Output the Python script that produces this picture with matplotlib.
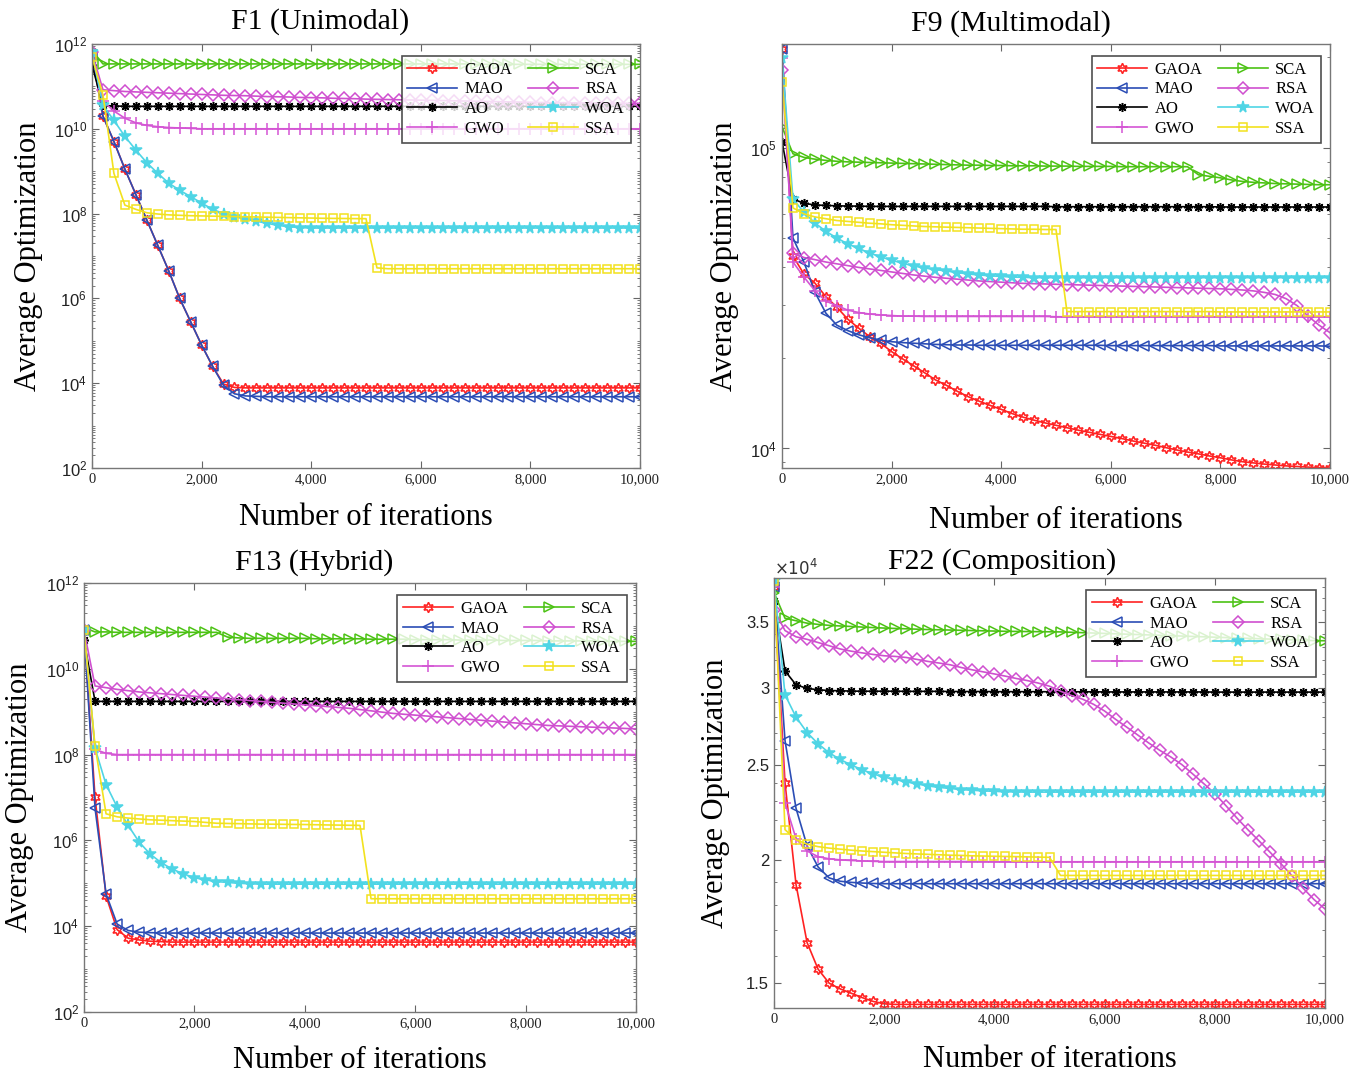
import numpy as np
import matplotlib
matplotlib.use("Agg")
import matplotlib.pyplot as plt
from matplotlib.ticker import FuncFormatter, LogLocator, FixedLocator, NullFormatter, LogFormatterSciNotation

# iteration grid (one point every 200 iterations)
iters = np.arange(0, 10001, 200)

names = ["GAOA", "MAO", "AO", "GWO", "SCA", "RSA", "WOA", "SSA"]

# ---------------- F1 (Unimodal), log10 of value ----------------
f1_gaoa = [11.75, 10.30, 9.70, 9.05, 8.45, 7.85, 7.25, 6.65, 6.00, 5.45,
           4.90, 4.40, 3.98, 3.90, 3.89, 3.89, 3.89, 3.89, 3.89, 3.89,
           3.89, 3.89, 3.89, 3.89, 3.89, 3.89, 3.89, 3.89, 3.89, 3.89,
           3.89, 3.89, 3.89, 3.89, 3.89, 3.89, 3.89, 3.89, 3.89, 3.89,
           3.89, 3.89, 3.89, 3.89, 3.89, 3.89, 3.89, 3.89, 3.89, 3.89,
           3.89]
f1_mao = [11.75, 10.30, 9.70, 9.05, 8.45, 7.85, 7.25, 6.65, 6.00, 5.45,
          4.90, 4.40, 3.95, 3.75, 3.70, 3.69, 3.68, 3.68, 3.68, 3.68,
          3.68, 3.68, 3.68, 3.68, 3.68, 3.68, 3.68, 3.68, 3.68, 3.68,
          3.68, 3.68, 3.68, 3.68, 3.68, 3.68, 3.68, 3.68, 3.68, 3.68,
          3.68, 3.68, 3.68, 3.68, 3.68, 3.68, 3.68, 3.68, 3.68, 3.68,
          3.68]
f1_ao = [11.50, 10.55, 10.54, 10.53, 10.53, 10.53, 10.53, 10.53, 10.53, 10.53,
         10.53, 10.53, 10.53, 10.53, 10.53, 10.53, 10.53, 10.53, 10.53, 10.53,
         10.53, 10.53, 10.53, 10.53, 10.53, 10.53, 10.53, 10.53, 10.53, 10.53,
         10.53, 10.53, 10.53, 10.53, 10.53, 10.53, 10.53, 10.53, 10.53, 10.53,
         10.53, 10.53, 10.53, 10.53, 10.53, 10.53, 10.53, 10.53, 10.53, 10.53,
         10.53]
f1_gwo = [11.80, 10.65, 10.42, 10.25, 10.14, 10.08, 10.05, 10.03, 10.02, 10.01,
          10.00, 10.00, 10.00, 10.00, 10.00, 10.00, 10.00, 10.00, 10.00, 10.00,
          10.00, 10.00, 10.00, 10.00, 10.00, 10.00, 10.00, 10.00, 10.00, 10.00,
          10.00, 10.00, 10.00, 10.00, 10.00, 10.00, 10.00, 10.00, 10.00, 10.00,
          10.00, 10.00, 10.00, 10.00, 10.00, 10.00, 10.00, 10.00, 10.00, 10.00,
          10.00]
f1_sca = [11.85, 11.53, 11.53, 11.53, 11.53, 11.53, 11.53, 11.53, 11.53, 11.53,
          11.53, 11.53, 11.53, 11.53, 11.53, 11.53, 11.53, 11.53, 11.53, 11.53,
          11.53, 11.53, 11.53, 11.53, 11.53, 11.53, 11.53, 11.53, 11.53, 11.53,
          11.53, 11.53, 11.53, 11.53, 11.53, 11.52, 11.52, 11.52, 11.52, 11.52,
          11.52, 11.52, 11.52, 11.52, 11.52, 11.52, 11.52, 11.52, 11.52, 11.52,
          11.52]
f1_rsa = [11.80, 10.92, 10.90, 10.88, 10.87, 10.86, 10.85, 10.84, 10.83, 10.82,
          10.81, 10.80, 10.79, 10.785, 10.78, 10.77, 10.76, 10.755, 10.75, 10.74,
          10.735, 10.73, 10.72, 10.715, 10.71, 10.70, 10.695, 10.69, 10.685, 10.68,
          10.675, 10.67, 10.665, 10.66, 10.655, 10.65, 10.645, 10.64, 10.635, 10.63,
          10.625, 10.62, 10.618, 10.615, 10.612, 10.61, 10.607, 10.605, 10.602, 10.60,
          10.60]
f1_woa = [11.80, 10.55, 10.20, 9.82, 9.50, 9.20, 8.95, 8.72, 8.55, 8.40,
          8.25, 8.10, 8.00, 7.93, 7.87, 7.82, 7.77, 7.72, 7.69, 7.67,
          7.66, 7.66, 7.66, 7.66, 7.66, 7.66, 7.66, 7.66, 7.66, 7.66,
          7.66, 7.66, 7.66, 7.66, 7.66, 7.66, 7.66, 7.66, 7.66, 7.66,
          7.66, 7.66, 7.66, 7.66, 7.66, 7.66, 7.66, 7.66, 7.66, 7.66,
          7.66]
f1_ssa = [11.70, 10.80, 8.95, 8.20, 8.10, 8.02, 7.99, 7.97, 7.96, 7.95,
          7.945, 7.94, 7.935, 7.93, 7.925, 7.92, 7.915, 7.91, 7.905, 7.90,
          7.895, 7.89, 7.887, 7.885, 7.882, 7.88, 6.72, 6.70, 6.70, 6.70,
          6.70, 6.70, 6.70, 6.70, 6.70, 6.70, 6.70, 6.70, 6.70, 6.70,
          6.70, 6.70, 6.70, 6.70, 6.70, 6.70, 6.70, 6.70, 6.70, 6.70,
          6.70]

# ---------------- F9 (Multimodal), log10 of value ----------------
f9_gaoa = [5.33, 4.64, 4.58, 4.55, 4.505, 4.47, 4.43, 4.40, 4.372, 4.35,
           4.322, 4.298, 4.275, 4.252, 4.228, 4.21, 4.19, 4.172, 4.157, 4.143,
           4.13, 4.116, 4.104, 4.094, 4.085, 4.077, 4.069, 4.061, 4.054, 4.047,
           4.04, 4.033, 4.025, 4.018, 4.011, 4.003, 3.995, 3.988, 3.982, 3.975,
           3.969, 3.962, 3.956, 3.952, 3.948, 3.945, 3.942, 3.94, 3.938, 3.936,
           3.935]
f9_mao = [5.33, 4.70, 4.62, 4.52, 4.45, 4.41, 4.392, 4.378, 4.368, 4.36,
          4.355, 4.352, 4.35, 4.348, 4.346, 4.345, 4.344, 4.344, 4.343, 4.343,
          4.343, 4.343, 4.343, 4.343, 4.343, 4.343, 4.343, 4.343, 4.343, 4.343,
          4.342, 4.342, 4.342, 4.342, 4.342, 4.342, 4.342, 4.342, 4.342, 4.342,
          4.341, 4.341, 4.341, 4.341, 4.341, 4.341, 4.341, 4.341, 4.341, 4.341,
          4.34]
f9_ao = [5.02, 4.83, 4.815, 4.81, 4.808, 4.807, 4.806, 4.806, 4.805, 4.805,
         4.805, 4.805, 4.805, 4.805, 4.805, 4.805, 4.805, 4.805, 4.805, 4.805,
         4.805, 4.805, 4.805, 4.805, 4.805, 4.804, 4.804, 4.804, 4.804, 4.804,
         4.804, 4.804, 4.804, 4.804, 4.804, 4.804, 4.804, 4.804, 4.804, 4.804,
         4.803, 4.803, 4.803, 4.803, 4.803, 4.803, 4.803, 4.803, 4.803, 4.803,
         4.803]
f9_gwo = [5.30, 4.62, 4.57, 4.525, 4.49, 4.475, 4.46, 4.452, 4.447, 4.444,
          4.442, 4.44, 4.44, 4.439, 4.439, 4.439, 4.439, 4.439, 4.439, 4.439,
          4.439, 4.439, 4.439, 4.439, 4.439, 4.438, 4.438, 4.438, 4.438, 4.438,
          4.438, 4.438, 4.438, 4.438, 4.438, 4.438, 4.438, 4.438, 4.438, 4.438,
          4.438, 4.438, 4.438, 4.438, 4.438, 4.438, 4.438, 4.438, 4.438, 4.438,
          4.438]
f9_sca = [5.07, 4.98, 4.968, 4.962, 4.958, 4.955, 4.953, 4.952, 4.951, 4.95,
          4.949, 4.948, 4.947, 4.946, 4.945, 4.944, 4.943, 4.942, 4.942, 4.941,
          4.941, 4.94, 4.94, 4.94, 4.939, 4.939, 4.939, 4.938, 4.938, 4.938,
          4.938, 4.937, 4.937, 4.937, 4.937, 4.937, 4.937, 4.937, 4.91, 4.905,
          4.90, 4.893, 4.888, 4.885, 4.883, 4.881, 4.88, 4.879, 4.878, 4.877,
          4.877]
f9_rsa = [5.26, 4.65, 4.635, 4.628, 4.62, 4.614, 4.608, 4.602, 4.597, 4.592,
          4.587, 4.582, 4.577, 4.573, 4.569, 4.566, 4.563, 4.56, 4.557, 4.555,
          4.553, 4.551, 4.549, 4.548, 4.547, 4.546, 4.545, 4.544, 4.543, 4.542,
          4.541, 4.54, 4.539, 4.538, 4.537, 4.536, 4.535, 4.534, 4.533, 4.532,
          4.531, 4.529, 4.527, 4.524, 4.519, 4.512, 4.498, 4.475, 4.44, 4.41,
          4.385]
f9_woa = [5.30, 4.83, 4.785, 4.75, 4.722, 4.70, 4.68, 4.665, 4.65, 4.637,
          4.626, 4.616, 4.607, 4.60, 4.595, 4.59, 4.585, 4.58, 4.577, 4.574,
          4.572, 4.57, 4.569, 4.568, 4.568, 4.568, 4.568, 4.568, 4.568, 4.568,
          4.568, 4.568, 4.568, 4.568, 4.568, 4.568, 4.568, 4.568, 4.568, 4.568,
          4.568, 4.568, 4.568, 4.568, 4.568, 4.568, 4.568, 4.568, 4.568, 4.568,
          4.568]
f9_ssa = [5.22, 4.80, 4.78, 4.77, 4.764, 4.758, 4.755, 4.752, 4.749, 4.747,
          4.744, 4.742, 4.74, 4.738, 4.737, 4.736, 4.735, 4.734, 4.733, 4.732,
          4.731, 4.73, 4.729, 4.729, 4.728, 4.728, 4.455, 4.455, 4.455, 4.455,
          4.455, 4.455, 4.455, 4.455, 4.455, 4.455, 4.455, 4.455, 4.455, 4.455,
          4.454, 4.454, 4.454, 4.454, 4.454, 4.454, 4.454, 4.454, 4.454, 4.454,
          4.454]

# ---------------- F13 (Hybrid), log10 of value ----------------
f13_gaoa = [10.90, 7.00, 4.70, 3.92, 3.72, 3.68, 3.65, 3.64, 3.63, 3.63,
            3.63, 3.63, 3.63, 3.63, 3.63, 3.63, 3.63, 3.63, 3.63, 3.63,
            3.63, 3.63, 3.63, 3.63, 3.63, 3.63, 3.63, 3.63, 3.63, 3.63,
            3.63, 3.63, 3.63, 3.63, 3.63, 3.63, 3.63, 3.63, 3.63, 3.63,
            3.63, 3.63, 3.63, 3.63, 3.63, 3.63, 3.63, 3.63, 3.63, 3.63,
            3.63]
f13_mao = [10.90, 6.75, 4.75, 4.05, 3.90, 3.86, 3.85, 3.84, 3.84, 3.84,
           3.84, 3.84, 3.84, 3.84, 3.84, 3.84, 3.84, 3.84, 3.84, 3.84,
           3.84, 3.84, 3.84, 3.84, 3.84, 3.84, 3.84, 3.84, 3.84, 3.84,
           3.84, 3.84, 3.84, 3.84, 3.84, 3.84, 3.84, 3.84, 3.84, 3.84,
           3.84, 3.84, 3.84, 3.84, 3.84, 3.84, 3.84, 3.84, 3.84, 3.84,
           3.84]
f13_ao = [10.67, 9.24, 9.24, 9.24, 9.24, 9.24, 9.24, 9.24, 9.24, 9.24,
          9.24, 9.24, 9.24, 9.24, 9.24, 9.24, 9.24, 9.24, 9.24, 9.24,
          9.24, 9.24, 9.24, 9.24, 9.24, 9.24, 9.24, 9.24, 9.24, 9.24,
          9.24, 9.24, 9.24, 9.24, 9.24, 9.24, 9.24, 9.24, 9.24, 9.24,
          9.24, 9.24, 9.24, 9.24, 9.24, 9.24, 9.24, 9.24, 9.24, 9.24,
          9.24]
f13_gwo = [10.90, 8.12, 8.03, 8.00, 8.00, 8.00, 8.00, 8.00, 8.00, 8.00,
           8.00, 8.00, 8.00, 8.00, 8.00, 8.00, 8.00, 8.00, 8.00, 8.00,
           8.00, 8.00, 8.00, 8.00, 8.00, 8.00, 8.00, 8.00, 8.00, 8.00,
           8.00, 8.00, 8.00, 8.00, 8.00, 8.00, 8.00, 8.00, 8.00, 8.00,
           8.00, 8.00, 8.00, 8.00, 8.00, 8.00, 8.00, 8.00, 8.00, 8.00,
           8.00]
f13_sca = [10.96, 10.86, 10.86, 10.85, 10.85, 10.85, 10.85, 10.85, 10.85, 10.85,
           10.85, 10.85, 10.85, 10.74, 10.72, 10.71, 10.71, 10.71, 10.71, 10.71,
           10.71, 10.70, 10.70, 10.70, 10.70, 10.70, 10.69, 10.69, 10.69, 10.69,
           10.68, 10.68, 10.68, 10.68, 10.67, 10.67, 10.67, 10.67, 10.66, 10.66,
           10.66, 10.66, 10.65, 10.65, 10.65, 10.65, 10.65, 10.64, 10.64, 10.64,
           10.64]
f13_rsa = [10.90, 9.60, 9.56, 9.52, 9.49, 9.46, 9.44, 9.42, 9.40, 9.38,
           9.36, 9.34, 9.32, 9.30, 9.28, 9.26, 9.24, 9.22, 9.20, 9.18,
           9.16, 9.14, 9.12, 9.10, 9.08, 9.05, 9.02, 8.99, 8.96, 8.94,
           8.92, 8.90, 8.88, 8.86, 8.84, 8.82, 8.80, 8.78, 8.76, 8.74,
           8.72, 8.70, 8.68, 8.67, 8.66, 8.65, 8.64, 8.63, 8.62, 8.61,
           8.60]
f13_woa = [10.90, 8.15, 7.30, 6.78, 6.35, 5.96, 5.68, 5.48, 5.33, 5.22,
           5.13, 5.08, 5.04, 5.02, 5.00, 4.99, 4.98, 4.98, 4.98, 4.98,
           4.98, 4.98, 4.98, 4.98, 4.98, 4.98, 4.98, 4.98, 4.98, 4.98,
           4.98, 4.98, 4.98, 4.98, 4.98, 4.98, 4.98, 4.98, 4.98, 4.98,
           4.98, 4.98, 4.98, 4.98, 4.98, 4.98, 4.98, 4.98, 4.98, 4.98,
           4.98]
f13_ssa = [10.90, 8.20, 6.62, 6.55, 6.52, 6.50, 6.48, 6.47, 6.46, 6.45,
           6.44, 6.42, 6.40, 6.395, 6.39, 6.385, 6.38, 6.378, 6.375, 6.372,
           6.37, 6.365, 6.36, 6.357, 6.353, 6.35, 4.64, 4.64, 4.64, 4.64,
           4.64, 4.64, 4.64, 4.64, 4.64, 4.64, 4.64, 4.64, 4.64, 4.64,
           4.64, 4.64, 4.64, 4.64, 4.64, 4.64, 4.64, 4.64, 4.64, 4.64,
           4.64]

# ---------------- F22 (Composition), value x 10^4 ----------------
f22_gaoa = [3.80, 2.40, 1.89, 1.65, 1.55, 1.50, 1.48, 1.465, 1.45, 1.437,
            1.429, 1.427, 1.427, 1.427, 1.427, 1.427, 1.427, 1.427, 1.427, 1.427,
            1.427, 1.427, 1.427, 1.427, 1.427, 1.427, 1.427, 1.427, 1.427, 1.427,
            1.427, 1.427, 1.427, 1.427, 1.427, 1.427, 1.427, 1.427, 1.427, 1.427,
            1.427, 1.427, 1.427, 1.427, 1.427, 1.427, 1.427, 1.427, 1.427, 1.427,
            1.427]
f22_mao = [3.80, 2.65, 2.26, 2.07, 1.97, 1.92, 1.905, 1.90, 1.897, 1.895,
           1.894, 1.894, 1.894, 1.894, 1.894, 1.894, 1.894, 1.894, 1.894, 1.894,
           1.894, 1.894, 1.894, 1.894, 1.894, 1.894, 1.894, 1.894, 1.894, 1.894,
           1.894, 1.894, 1.894, 1.894, 1.894, 1.894, 1.894, 1.894, 1.894, 1.894,
           1.894, 1.894, 1.894, 1.894, 1.894, 1.894, 1.894, 1.894, 1.894, 1.894,
           1.894]
f22_ao = [3.68, 3.12, 3.02, 2.995, 2.985, 2.98, 2.978, 2.976, 2.975, 2.975,
          2.975, 2.975, 2.974, 2.974, 2.974, 2.974, 2.973, 2.973, 2.973, 2.973,
          2.972, 2.972, 2.972, 2.972, 2.972, 2.971, 2.971, 2.971, 2.971, 2.971,
          2.970, 2.970, 2.970, 2.970, 2.970, 2.970, 2.970, 2.970, 2.970, 2.970,
          2.969, 2.969, 2.969, 2.969, 2.969, 2.969, 2.969, 2.969, 2.969, 2.969,
          2.969]
f22_gwo = [3.80, 2.29, 2.105, 2.045, 2.018, 2.008, 2.003, 2.00, 1.998, 1.996,
           1.995, 1.995, 1.995, 1.995, 1.995, 1.995, 1.995, 1.995, 1.995, 1.995,
           1.994, 1.994, 1.994, 1.994, 1.994, 1.994, 1.994, 1.994, 1.994, 1.994,
           1.994, 1.994, 1.994, 1.994, 1.994, 1.994, 1.994, 1.994, 1.994, 1.994,
           1.994, 1.994, 1.994, 1.994, 1.994, 1.994, 1.994, 1.994, 1.994, 1.994,
           1.994]
f22_sca = [3.75, 3.53, 3.51, 3.49, 3.48, 3.472, 3.467, 3.463, 3.458, 3.454,
           3.45, 3.447, 3.444, 3.441, 3.438, 3.436, 3.434, 3.432, 3.43, 3.428,
           3.426, 3.424, 3.423, 3.422, 3.421, 3.42, 3.419, 3.416, 3.413, 3.41,
           3.407, 3.404, 3.401, 3.398, 3.395, 3.392, 3.389, 3.386, 3.383, 3.38,
           3.377, 3.374, 3.371, 3.368, 3.365, 3.362, 3.359, 3.356, 3.353, 3.35,
           3.349]
f22_rsa = [3.60, 3.43, 3.38, 3.36, 3.335, 3.31, 3.285, 3.268, 3.255, 3.243,
           3.233, 3.228, 3.22, 3.205, 3.19, 3.178, 3.165, 3.145, 3.128, 3.113,
           3.098, 3.082, 3.065, 3.05, 3.032, 3.01, 2.975, 2.945, 2.92, 2.885,
           2.84, 2.785, 2.735, 2.685, 2.635, 2.59, 2.55, 2.505, 2.45, 2.395,
           2.34, 2.275, 2.21, 2.15, 2.095, 2.04, 1.985, 1.93, 1.875, 1.825,
           1.785]
f22_woa = [3.85, 2.95, 2.80, 2.70, 2.63, 2.575, 2.535, 2.502, 2.475, 2.45,
           2.432, 2.418, 2.405, 2.393, 2.382, 2.374, 2.368, 2.362, 2.358, 2.355,
           2.352, 2.35, 2.349, 2.348, 2.348, 2.348, 2.348, 2.348, 2.348, 2.348,
           2.348, 2.348, 2.348, 2.348, 2.348, 2.348, 2.348, 2.348, 2.348, 2.348,
           2.348, 2.348, 2.348, 2.348, 2.348, 2.348, 2.348, 2.348, 2.348, 2.348,
           2.348]
f22_ssa = [3.85, 2.15, 2.10, 2.078, 2.066, 2.059, 2.054, 2.049, 2.045, 2.042,
           2.039, 2.036, 2.033, 2.031, 2.029, 2.027, 2.025, 2.024, 2.022, 2.021,
           2.02, 2.019, 2.018, 2.017, 2.016, 2.015, 1.931, 1.931, 1.931, 1.931,
           1.931, 1.931, 1.931, 1.931, 1.931, 1.931, 1.931, 1.931, 1.931, 1.931,
           1.931, 1.931, 1.931, 1.931, 1.931, 1.931, 1.931, 1.931, 1.931, 1.931,
           1.931]

# ---------------- styles ----------------
colors = ["#ff2222", "#2b4db5", "#000000", "#d455d4",
          "#4cc214", "#cf4fcf", "#4fd5e5", "#f2e21e"]
markers = [(6, 1, 0), "<", (8, 2, 0), "+", ">", "D", "*", "s"]
msizes = [7.5, 7, 6.5, 8.5, 7, 6, 8.5, 6]
filled = [False, False, False, False, False, False, True, False]

W, H = 1356, 1077
fig = plt.figure(figsize=(W / 100, H / 100), dpi=100)
serif = "Liberation Serif"
sans = "Liberation Sans"


def box(l, r, t, b):
    return [l / W, 1 - b / H, (r - l) / W, (b - t) / H]


panels = [
    dict(title="F1 (Unimodal)", pos=box(92, 640, 44, 468), tx=320, ty=22,
         data=[f1_gaoa, f1_mao, f1_ao, f1_gwo, f1_sca, f1_rsa, f1_woa, f1_ssa],
         log10=True, ylim=(1e2, 1e12), ylx=-0.09, xly=-0.082),
    dict(title="F9 (Multimodal)", pos=box(782, 1330, 44, 468), tx=1011, ty=24,
         data=[f9_gaoa, f9_mao, f9_ao, f9_gwo, f9_sca, f9_rsa, f9_woa, f9_ssa],
         log10=True, ylim=(10 ** 3.935, 10 ** 5.345), ylx=-0.078, xly=-0.09),
    dict(title="F13 (Hybrid)", pos=box(84, 636, 583, 1012), tx=314, ty=563,
         data=[f13_gaoa, f13_mao, f13_ao, f13_gwo, f13_sca, f13_rsa, f13_woa, f13_ssa],
         log10=True, ylim=(1e2, 1e12), ylx=-0.09, xly=-0.079),
    dict(title="F22 (Composition)", pos=box(774, 1325, 578, 1008), tx=1002, ty=562,
         data=[f22_gaoa, f22_mao, f22_ao, f22_gwo, f22_sca, f22_rsa, f22_woa, f22_ssa],
         log10=False, ylim=(1.415, 3.88), ylx=-0.08, xly=-0.085),
]

for p in panels:
    ax = fig.add_axes(p["pos"])
    for k in range(8):
        vals = np.array(p["data"][k])
        y = 10 ** vals if p["log10"] else vals
        ax.plot(iters, y, color=colors[k], marker=markers[k], ms=msizes[k],
                mfc=colors[k] if filled[k] else "none", mec=colors[k],
                mew=1.1, lw=1.2, label=names[k])
    ax.set_yscale("log")
    ax.set_xlim(0, 10000)
    ax.set_ylim(*p["ylim"])
    ax.set_xticks(range(0, 10001, 2000))
    ax.xaxis.set_major_formatter(FuncFormatter(lambda v, pos: f"{int(v):,}"))

    if p["title"].startswith("F1 ") or p["title"].startswith("F13"):
        ax.yaxis.set_major_locator(FixedLocator([1e2, 1e4, 1e6, 1e8, 1e10, 1e12]))
        ax.yaxis.set_minor_locator(LogLocator(base=10, subs=np.arange(1, 10), numticks=100))
        ax.yaxis.set_major_formatter(LogFormatterSciNotation())
    elif p["title"].startswith("F9"):
        ax.yaxis.set_major_locator(FixedLocator([1e4, 1e5]))
        ax.yaxis.set_minor_locator(LogLocator(base=10, subs=np.arange(1, 10), numticks=100))
        ax.yaxis.set_major_formatter(LogFormatterSciNotation())
    else:
        ax.yaxis.set_major_locator(FixedLocator([1.5, 2, 2.5, 3, 3.5]))
        ax.yaxis.set_minor_locator(FixedLocator(np.arange(1.5, 3.85, 0.1)))
        ax.yaxis.set_major_formatter(FuncFormatter(lambda v, pos: f"{v:g}"))
        ax.text(0.0, 1.0, r"$\times10^{4}$", transform=ax.transAxes, fontsize=12,
                family=sans, color="#333333", ha="left", va="bottom")
    ax.yaxis.set_minor_formatter(NullFormatter())

    ax.tick_params(which="both", direction="in", top=True, right=True, colors="#666666")
    ax.tick_params(which="major", length=5)
    ax.tick_params(which="minor", length=2.5)
    ax.tick_params(axis="x", labelcolor="#222222", labelsize=10.5)
    ax.tick_params(axis="y", labelcolor="#222222", labelsize=12)
    for lab in ax.get_xticklabels():
        lab.set_family(serif)
    for lab in ax.get_yticklabels():
        lab.set_family(sans)
    for s in ax.spines.values():
        s.set_color("#777777")
        s.set_linewidth(1.0)

    ax.set_xlabel("Number of iterations", family=serif, fontsize=22)
    ax.set_ylabel("Average Optimization", family=serif, fontsize=22)
    ax.yaxis.set_label_coords(p["ylx"], 0.5)
    ax.xaxis.set_label_coords(0.5, p["xly"])
    fig.text(p["tx"] / W, 1 - p["ty"] / H, p["title"], family=serif, fontsize=21.5,
             ha="center", va="center")

    leg = ax.legend(ncol=2, loc="upper right", bbox_to_anchor=(0.983, 0.972),
                    borderaxespad=0.0,
                    prop={"family": serif, "size": 12}, frameon=True, fancybox=False,
                    edgecolor="#222222", handlelength=3.0, columnspacing=0.9,
                    labelspacing=0.22, borderpad=0.35, handletextpad=0.45)
    leg.get_frame().set_linewidth(1.2)

fig.savefig("out.png", dpi=100)
